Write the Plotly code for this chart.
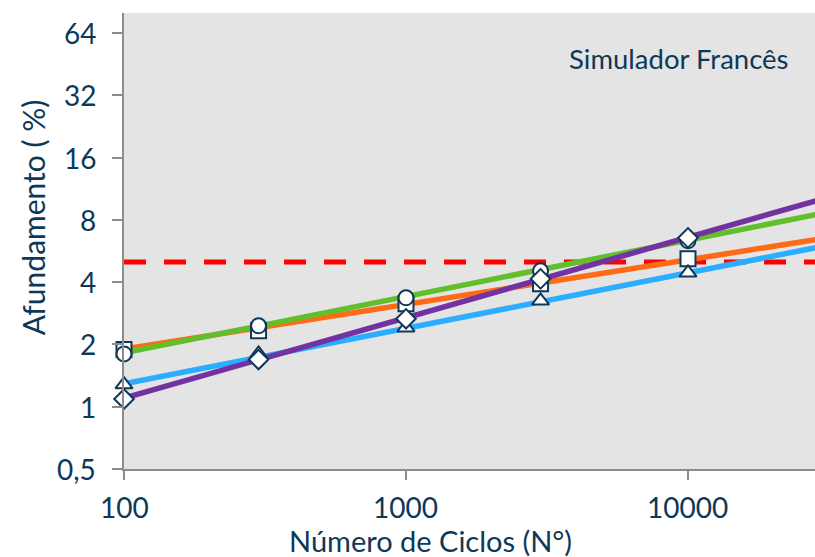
import math
import plotly.graph_objects as go

# Number of load cycles where rut depth was measured
ciclos = [100, 300, 1000, 3000, 10000]

# Measured rut depth (%) per mixture
afund_quadrado = [1.89, 2.33, 3.15, 3.93, 5.19]
afund_circulo = [1.80, 2.46, 3.36, 4.54, 6.34]
afund_triangulo = [1.28, 1.80, 2.41, 3.25, 4.44]
afund_losango = [1.09, 1.69, 2.66, 4.15, 6.55]

# Power-law trend lines, given by their end values
ciclos_tend = [100, 30000]
tend_laranja = [1.90, 6.50]
tend_verde = [1.82, 8.61]
tend_azul = [1.29, 5.96]
tend_roxo = [1.10, 10.1]

# Rut depth limit (%)
limite = 5.0
ciclos_limite = [100, 30000]

y_ticks = [0.5, 1, 2, 4, 8, 16, 32, 64]
y_labels = ["0,5", "1", "2", "4", "8", "16", "32", "64"]
x_ticks = [100, 1000, 10000]
x_labels = ["100", "1000", "10000"]

TXT = "#0E3857"
MK_LINE = "#0E3857"
FONT = "Lato"

fig = go.Figure()

fig.add_trace(go.Scatter(x=ciclos_limite, y=[limite, limite], mode="lines",
                         line=dict(color="#FF0000", width=5, dash="22px,18px"),
                         hoverinfo="skip"))

for yv, col in [(tend_laranja, "#FF6A16"), (tend_verde, "#63BE2C"),
                (tend_azul, "#2BAEFF"), (tend_roxo, "#7232A2")]:
    fig.add_trace(go.Scatter(x=ciclos_tend, y=yv, mode="lines",
                             line=dict(color=col, width=5.5)))

for yv, sym in [(afund_quadrado, "square"), (afund_circulo, "circle"),
                (afund_triangulo, "triangle-up"), (afund_losango, "diamond")]:
    fig.add_trace(go.Scatter(x=ciclos, y=yv, mode="markers", cliponaxis=False,
                             marker=dict(symbol=sym, size=15, color="white",
                                         line=dict(color=MK_LINE, width=2))))

annotations = [
    dict(text="Simulador Francês", xref="paper", yref="paper",
         x=0.964, y=0.901, xanchor="right", yanchor="middle",
         showarrow=False, font=dict(size=27.5, color=TXT, family=FONT)),
    dict(text="Número de Ciclos (N°)", xref="paper", yref="paper",
         x=0.443, y=-0.156, xanchor="center", yanchor="middle",
         showarrow=False, font=dict(size=29, color=TXT, family=FONT)),
    dict(text="Afundamento ( %)", xref="paper", yref="paper",
         x=-0.132, y=0.5515, xanchor="center", yanchor="middle",
         textangle=-90,
         showarrow=False, font=dict(size=30, color=TXT, family=FONT)),
]

# Tick labels drawn as annotations so they can be sized freely
for v, lab in zip(y_ticks, y_labels):
    annotations.append(dict(text=lab, xref="paper", yref="y",
                            x=-0.038, y=math.log10(v),
                            xanchor="right", yanchor="middle",
                            showarrow=False,
                            font=dict(size=28, color=TXT, family=FONT)))
for v, lab in zip(x_ticks, x_labels):
    annotations.append(dict(text=lab, xref="x", yref="paper",
                            x=math.log10(v), y=-0.084,
                            xanchor="center", yanchor="middle",
                            showarrow=False,
                            font=dict(size=28, color=TXT, family=FONT)))

fig.update_layout(
    width=815, height=557,
    margin=dict(l=124, r=0, t=13, b=88),
    paper_bgcolor="white",
    plot_bgcolor="#E4E4E4",
    showlegend=False,
    font=dict(family=FONT, color=TXT, size=24),
    annotations=annotations,
)
fig.update_xaxes(type="log", range=[2, 4.4504],
                 tickmode="array", tickvals=x_ticks, showticklabels=False,
                 showgrid=False, zeroline=False,
                 showline=True, linecolor="#8C8C8C", linewidth=2,
                 ticks="outside", ticklen=9, tickwidth=2, tickcolor="#8C8C8C")
fig.update_yaxes(type="log", range=[-0.30103, 1.9031],
                 tickmode="array", tickvals=y_ticks, showticklabels=False,
                 showgrid=False, zeroline=False,
                 showline=True, linecolor="#8C8C8C", linewidth=2,
                 ticks="outside", ticklen=10, tickwidth=2, tickcolor="#8C8C8C")

fig.write_html("out.html")
